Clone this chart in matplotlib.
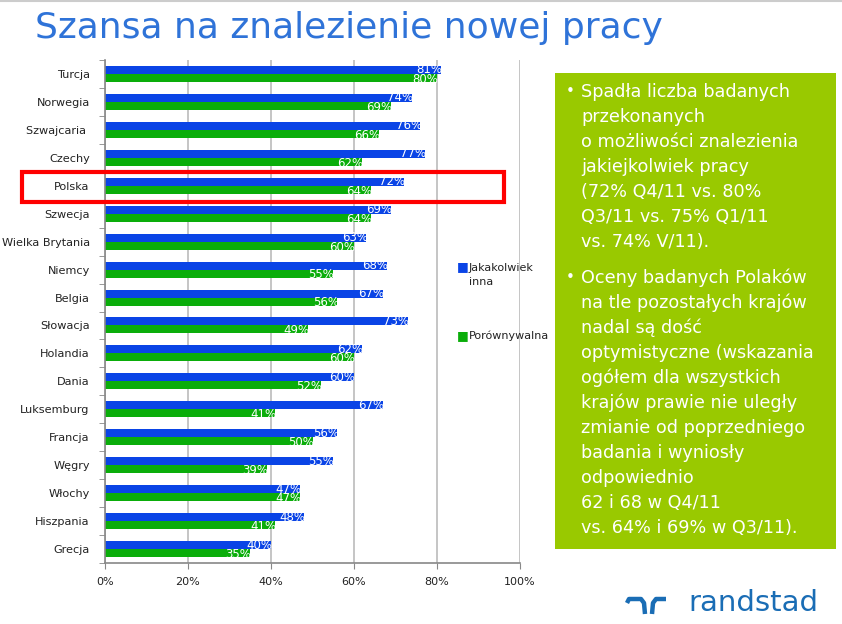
import matplotlib
matplotlib.use('Agg')
import matplotlib.pyplot as plt
import numpy as np
from matplotlib.patches import Rectangle
from matplotlib.lines import Line2D

# dane z wykresu
kraje = ['Turcja', 'Norwegia', 'Szwajcaria ', 'Czechy', 'Polska', 'Szwecja',
         'Wielka Brytania', 'Niemcy', 'Belgia', 'Słowacja', 'Holandia', 'Dania',
         'Luksemburg', 'Francja', 'Węgry', 'Włochy', 'Hiszpania', 'Grecja']
jakakolwiek = [81, 74, 76, 77, 72, 69, 63, 68, 67, 73, 62, 60, 67, 56, 55, 47, 48, 40]
porownywalna = [80, 69, 66, 62, 64, 64, 60, 55, 56, 49, 60, 52, 41, 50, 39, 47, 41, 35]
xticks = [0, 20, 40, 60, 80, 100]

niebieski = '#0a44e6'
zielony = '#0aad0a'

plt.rcParams['font.family'] = 'DejaVu Sans'
fig = plt.figure(figsize=(8.42, 6.24), dpi=100)
W, H = 842, 624

ax = fig.add_axes([105/W, 1-563/H, 415/W, 503/H])
y = np.arange(len(kraje))
h = 0.286
b1 = ax.barh(y - h/2, jakakolwiek, height=h, color=niebieski, label='Jakakolwiek\ninna')
b2 = ax.barh(y + h/2, porownywalna, height=h, color=zielony, label='Porównywalna')

for i in range(len(kraje)):
    ax.text(jakakolwiek[i] + 0.3, y[i] - h/2, '%d%%' % jakakolwiek[i], color='white',
            ha='right', va='center', fontsize=8.5)
    ax.text(porownywalna[i] + 0.3, y[i] + h/2 + 0.05, '%d%%' % porownywalna[i], color='white',
            ha='right', va='center', fontsize=8.5)

ax.set_ylim(len(kraje) - 0.5, -0.5)
ax.set_xlim(0, 100)
ax.set_yticks(y)
ax.set_yticklabels(kraje, fontsize=8.1, color='#222222')
ax.set_yticks(np.arange(-0.5, len(kraje)), minor=True)
ax.tick_params(axis='y', which='major', length=0, pad=11)
ax.tick_params(axis='y', which='minor', length=4, color='#888888')
ax.set_xticks(xticks)
ax.set_xticklabels(['%d%%' % v for v in xticks], fontsize=8, color='#222222')
ax.tick_params(axis='x', length=4, color='#888888', pad=6)
ax.xaxis.grid(True, color='#bbbbbb', linewidth=1.2)
ax.set_axisbelow(True)
for s in ['top', 'right']:
    ax.spines[s].set_visible(False)
for s in ['left', 'bottom']:
    ax.spines[s].set_color('#888888')
    ax.spines[s].set_linewidth(1.2)

# legenda
fig.text(457/W, 1-267/H, '■', color=niebieski, fontsize=9, ha='left', va='center')
fig.text(469/W, 1-275/H, 'Jakakolwiek\ninna', color='#222222', fontsize=8, ha='left',
         va='center', linespacing=1.4)
fig.text(457/W, 1-336/H, '■', color=zielony, fontsize=9, ha='left', va='center')
fig.text(469/W, 1-336/H, 'Porównywalna', color='#222222', fontsize=8, ha='left', va='center')

# tytul
fig.text(35/W, 1-28/H, 'Szansa na znalezienie nowej pracy', color='#2f73d8',
         fontsize=26, ha='left', va='center')
fig.add_artist(Line2D([0, 1], [1-1/H, 1-1/H], color='#cccccc', linewidth=1.5))

# ramka Polska
fig.add_artist(Rectangle((22/W, 1-202/H), 482/W, 30/H, fill=False, edgecolor='#ff0000',
                         linewidth=3))

# zielone pole z tekstem
fig.add_artist(Rectangle((555/W, 1-549/H), 281/W, 476/H, facecolor='#99c900',
                         edgecolor='none'))
para1 = ['Spadła liczba badanych', 'przekonanych', 'o możliwości znalezienia',
         'jakiejkolwiek pracy', '(72% Q4/11 vs. 80%', 'Q3/11 vs. 75% Q1/11',
         'vs. 74% V/11).']
para2 = ['Oceny badanych Polaków', 'na tle pozostałych krajów', 'nadal są dość',
         'optymistyczne (wskazania', 'ogółem dla wszystkich', 'krajów prawie nie uległy',
         'zmianie od poprzedniego', 'badania i wyniosły', 'odpowiednio',
         '62 i 68 w Q4/11', 'vs. 64% i 69% w Q3/11).']
y0 = 92
for par in [para1, para2]:
    fig.text(566/W, 1-y0/H, '•', color='white', fontsize=11, ha='left', va='center')
    for k, line in enumerate(par):
        fig.text(581/W, 1-(y0 + 25*k)/H, line, color='white', fontsize=12.7,
                 ha='left', va='center')
    y0 = y0 + 25*len(par) + 11

# logo randstad
logo = '#1a6db5'
fig.text(688/W, 1-603/H, 'randstad', color=logo, fontsize=21, ha='left', va='center')
fig.add_artist(Line2D([627/W, 629/W, 641/W, 644/W, 645/W],
                      [1-603/H, 1-599/H, 1-599/H, 1-603/H, 1-614/H],
                      color=logo, linewidth=3.2, solid_capstyle='butt'))
fig.add_artist(Line2D([666/W, 656/W, 653/W, 652/W],
                      [1-599/H, 1-599/H, 1-603/H, 1-614/H],
                      color=logo, linewidth=3.2, solid_capstyle='butt'))

fig.savefig('out.png', dpi=100)
